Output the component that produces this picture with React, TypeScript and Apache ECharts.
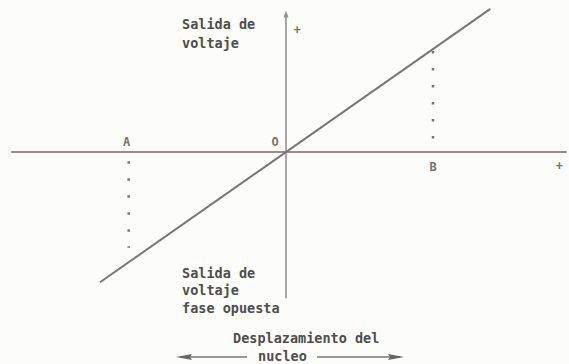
import React, { useEffect, useRef } from "react";
import * as echarts from "echarts";

// Output voltage vs. core displacement (LVDT transfer line)
const axisH: [number, number][] = [[-1.87, 0], [1.91, 0]];
const axisV: [number, number][] = [[0, -1.42], [0, 1.32]];
const axisVTip: [number, number][] = [[0, 1.34]];
const transferLine: [number, number][] = [[-1.265, -1.265], [1.39, 1.39]];
const dropA: [number, number][] = [[-1.07, -0.09], [-1.07, -0.93]];
const dropB: [number, number][] = [[1, 0.13], [1, 0.98]];
const pointNames = ["A", "O", "B", "+", "+"];
const pointCoords: [number, number][] = [[-1.07, 0], [0, 0], [1, 0], [1.86, 0], [0, 1.18]];

const X_MIN = -286 / 147;
const X_MAX = (569 - 286) / 147;
const Y_MAX = 152 / 103;
const Y_MIN = -(364 - 152) / 103;

const FONT = "DejaVu Sans Mono";
const INK = "#4d4d4d";

export default function App() {
  const ref = useRef<HTMLDivElement>(null);
  useEffect(() => {
    if (!ref.current) return;
    const chart = echarts.init(ref.current, null, { renderer: "svg" });
    const labelOffsets: Record<number, [number, number]> = {
      0: [-2, -10],
      1: [-11, -10],
      2: [0, 15],
      3: [0, 14],
      4: [11, 0],
    };
    chart.setOption({
      animation: false,
      backgroundColor: "#fcfcf8",
      grid: { left: 0, right: 0, top: 0, bottom: 0 },
      xAxis: { type: "value", min: X_MIN, max: X_MAX, show: false },
      yAxis: { type: "value", min: Y_MIN, max: Y_MAX, show: false },
      series: [
        {
          type: "line",
          data: axisH,
          symbol: "none",
          lineStyle: { color: "#978c8e", width: 2 },
        },
        {
          type: "line",
          data: axisV,
          symbol: "none",
          lineStyle: { color: "#8c8c8c", width: 1.5 },
        },
        {
          type: "scatter",
          data: axisVTip,
          symbol: "triangle",
          symbolSize: [5, 7],
          itemStyle: { color: "#777" },
        },
        {
          type: "line",
          data: transferLine,
          symbol: "none",
          lineStyle: { color: "#777777", width: 2 },
        },
        {
          type: "line",
          data: dropA,
          symbol: "none",
          lineStyle: { color: "#777", width: 2.5, type: [2.5, 14.5] },
        },
        {
          type: "line",
          data: dropB,
          symbol: "none",
          lineStyle: { color: "#777", width: 2.5, type: [2.5, 14.5] },
        },
        {
          type: "scatter",
          symbolSize: 0,
          data: pointCoords.map((c, i) => ({
            value: c,
            label: {
              show: true,
              formatter: pointNames[i],
              offset: labelOffsets[i],
              position: "inside",
              fontFamily: FONT,
              fontWeight: "bold",
              fontSize: 12,
              color: INK,
            },
          })),
        },
      ],
      graphic: [
        {
          type: "text",
          left: 182,
          top: 14,
          style: {
            text: "Salida de\nvoltaje",
            font: `bold 13.5px "${FONT}"`,
            lineHeight: 19,
            fill: INK,
          },
        },
        {
          type: "text",
          left: 182,
          top: 264,
          style: {
            text: "Salida de\nvoltaje\nfase opuesta",
            font: `bold 13.5px "${FONT}"`,
            lineHeight: 17.5,
            fill: INK,
          },
        },
        {
          type: "text",
          left: 233,
          top: 331,
          style: {
            text: "Desplazamiento del",
            font: `bold 13.5px "${FONT}"`,
            fill: INK,
          },
        },
        {
          type: "text",
          left: 258,
          top: 349,
          style: {
            text: "nucleo",
            font: `bold 13.5px "${FONT}"`,
            fill: INK,
          },
        },
        {
          type: "line",
          shape: { x1: 180, y1: 357, x2: 247, y2: 357 },
          style: { stroke: "#777", lineWidth: 1.5 },
        },
        {
          type: "polygon",
          shape: { points: [[176, 357], [192, 354], [190, 357], [192, 360]] },
          style: { fill: "#666" },
        },
        {
          type: "line",
          shape: { x1: 317, y1: 357, x2: 400, y2: 357 },
          style: { stroke: "#777", lineWidth: 1.5 },
        },
        {
          type: "polygon",
          shape: { points: [[404, 357], [388, 354], [390, 357], [388, 360]] },
          style: { fill: "#666" },
        },
      ],
    });
    return () => chart.dispose();
  }, []);
  return (
    <div
      ref={ref}
      style={{ position: "fixed", left: 0, top: 0, width: 569, height: 364 }}
    />
  );
}
